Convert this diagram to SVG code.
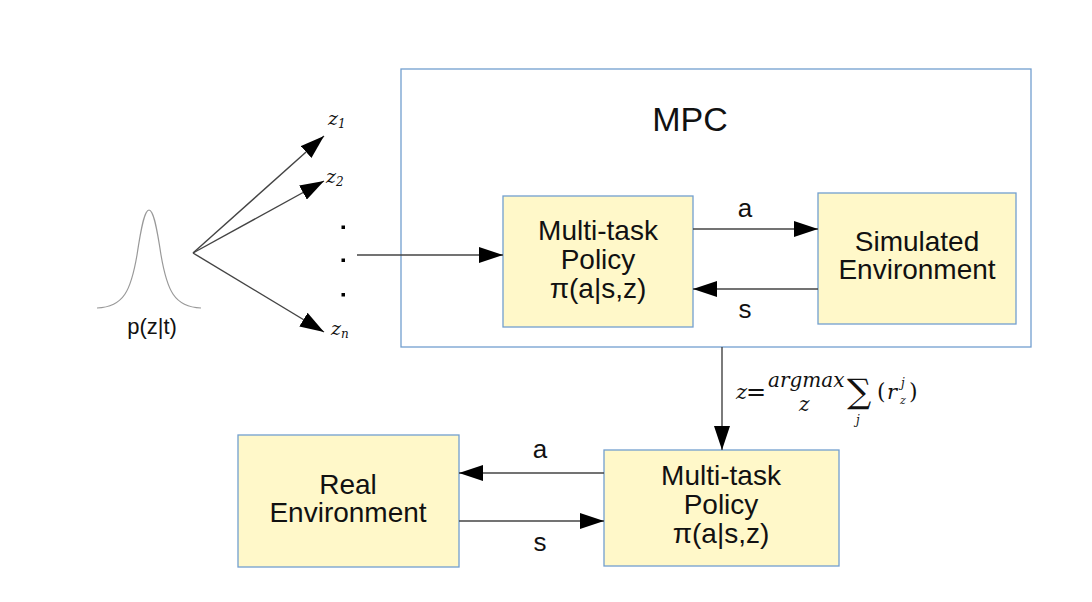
<svg xmlns="http://www.w3.org/2000/svg" width="1092" height="602" viewBox="0 0 1092 602">
<style>
.box{fill:#fff8c9;stroke:#729fcf;stroke-width:1.3}
.frame{fill:#ffffff;stroke:#729fcf;stroke-width:1.3}
.t{font-family:"Liberation Sans",Arial,sans-serif;fill:#111;text-anchor:middle}
.big{font-size:28px}
.lbl{font-size:26px}
.ln{stroke:#444;stroke-width:1.4;fill:none}
.m{font-family:"DejaVu Serif","Liberation Serif",serif;font-style:italic;fill:#111}
.s{font-family:"DejaVu Serif","Liberation Serif",serif;fill:#111}
</style>
<defs>
<marker id="ah" viewBox="0 0 24 16" refX="24" refY="8" markerWidth="24" markerHeight="16" markerUnits="userSpaceOnUse" orient="auto">
<path d="M0,0 L24,8 L0,16 Z" fill="#000"/>
</marker>
</defs>
<rect width="1092" height="602" fill="#fff"/>

<g id="mpc">
<rect class="frame" x="401" y="69" width="630" height="278"/>
<text class="t" x="690" y="131" font-size="34">MPC</text>
</g>

<g id="distribution">
<path d="M97,308 C124,307 131,290 137,255 C142,222 145,210 149,210 C153,210 156,222 161,255 C167,290 174,307 201,308" fill="none" stroke="#999" stroke-width="1.2"/>
<text class="t" x="152" y="334" font-size="22">p(z|t)</text>
</g>

<g id="samples">
<text class="m" x="328" y="125" font-size="19">z<tspan font-size="12" dy="3">1</tspan></text>
<text class="m" x="326" y="183" font-size="19">z<tspan font-size="12" dy="3">2</tspan></text>
<text class="m" x="331" y="335" font-size="19">z<tspan font-size="12" dy="3">n</tspan></text>
<rect x="341.5" y="225.5" width="3.5" height="3.5" fill="#000"/>
<rect x="341.5" y="258.5" width="3.5" height="3.5" fill="#000"/>
<rect x="341.5" y="293" width="3.5" height="3.5" fill="#000"/>
</g>

<g id="policy_sim">
<rect class="box" x="503" y="196" width="190" height="131"/>
<text class="t big" x="598" y="240">Multi-task</text>
<text class="t big" x="598" y="269">Policy</text>
<text class="t big" x="598" y="298">π(a|s,z)</text>
</g>

<g id="sim_env">
<rect class="box" x="818" y="193" width="198" height="131"/>
<text class="t big" x="917" y="251">Simulated</text>
<text class="t big" x="917" y="279">Environment</text>
</g>

<g id="real_env">
<rect class="box" x="238" y="435" width="221" height="132"/>
<text class="t big" x="348" y="494">Real</text>
<text class="t big" x="348" y="522">Environment</text>
</g>

<g id="policy_real">
<rect class="box" x="604" y="450" width="235" height="116"/>
<text class="t big" x="721" y="485">Multi-task</text>
<text class="t big" x="721" y="514">Policy</text>
<text class="t big" x="721" y="543">π(a|s,z)</text>
</g>

<g id="connectors">
<line class="ln" x1="193" y1="253" x2="324" y2="136" marker-end="url(#ah)"/>
<line class="ln" x1="193" y1="253" x2="324" y2="181" marker-end="url(#ah)"/>
<line class="ln" x1="193" y1="253" x2="324" y2="332" marker-end="url(#ah)"/>
<line class="ln" x1="357" y1="255" x2="503" y2="255" marker-end="url(#ah)"/>
<line class="ln" x1="693" y1="229" x2="818" y2="229" marker-end="url(#ah)"/>
<text class="t lbl" x="745" y="217">a</text>
<line class="ln" x1="818" y1="289" x2="693" y2="289" marker-end="url(#ah)"/>
<text class="t lbl" x="745" y="318">s</text>
<line class="ln" x1="722" y1="347" x2="722" y2="450" marker-end="url(#ah)"/>
<text class="m" x="736" y="399" font-size="21">z</text>
<text class="s" x="746" y="400" font-size="24">=</text>
<text class="m" x="768" y="387" font-size="20">argmax</text>
<text class="m" x="799" y="411" font-size="20">z</text>
<text class="s" x="847" y="403" font-size="34">∑</text>
<text class="m" x="856" y="424" font-size="12">j</text>
<text class="s" x="877" y="399" font-size="22">(</text>
<text class="m" x="887" y="399" font-size="21">r</text>
<text class="m" x="901" y="387" font-size="12">j</text>
<text class="m" x="900" y="404" font-size="11">z</text>
<text class="s" x="909" y="399" font-size="22">)</text>
<line class="ln" x1="604" y1="473" x2="459" y2="473" marker-end="url(#ah)"/>
<text class="t lbl" x="540" y="458">a</text>
<line class="ln" x1="459" y1="521" x2="604" y2="521" marker-end="url(#ah)"/>
<text class="t lbl" x="540" y="551">s</text>
</g>
</svg>
